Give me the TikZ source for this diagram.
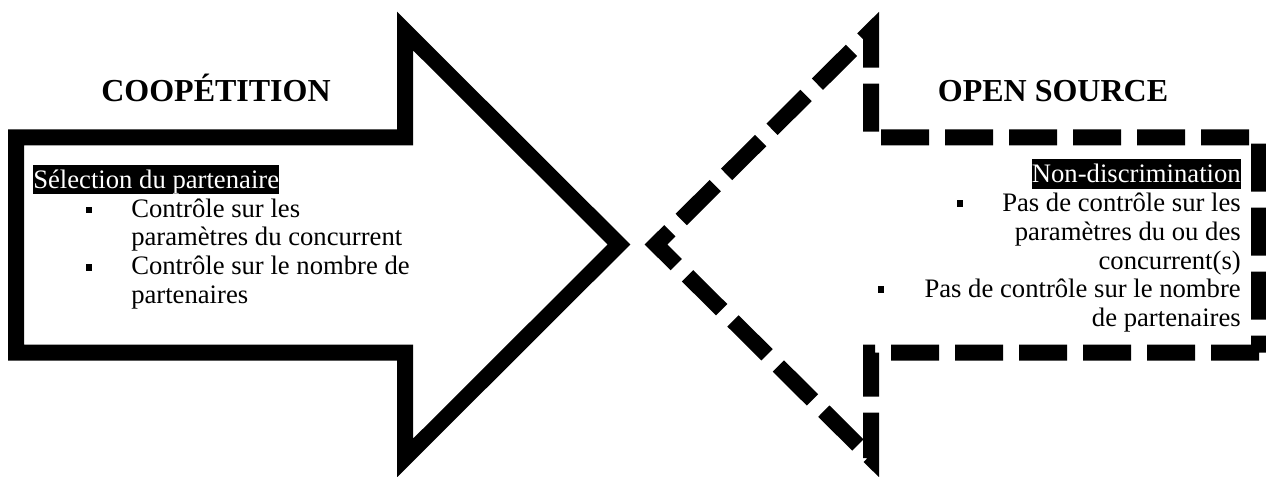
\documentclass[tikz,border=0pt]{standalone}
\usepackage{fontspec}
\setmainfont{Liberation Serif}

\begin{document}
\begin{tikzpicture}[x=0.75pt,y=-0.75pt,
  every node/.style={inner sep=0pt},
  ttl/.style={anchor=base,font=\fontsize{24}{28}\selectfont\bfseries},
  txt/.style={font=\fontsize{20}{24}\selectfont},
  hl/.style={txt,fill=black,text=white,text height=17.8pt,text depth=4.3pt},
  bul/.style={fill=black,minimum size=5.2pt},
  arrowline/.style={line width=12pt,line join=miter}]
\useasboundingbox (0,0) rectangle (1266,477);
% left arrow
\draw[arrowline] (16,137.5) -- (405,137.5) -- (405,31) -- (619,244.5)
  -- (405,458) -- (405,352.5) -- (16,352.5) -- cycle;
% right arrow
\draw[arrowline,dash pattern=on 36pt off 12pt] (1259,352.5) -- (871,352.5)
  -- (871,458) -- (656,244.5) -- (871,31) -- (871,137.5) -- (1259,137.5) -- cycle;
\node[ttl] (coop) at (216,102) {COOPÉTITION};
\node[ttl] (open) at (1053,102) {OPEN SOURCE};
% left text
\node[hl,anchor=base west] (lsel) at (33,188.5) {Sélection du partenaire};
\node[bul] (lb1) at (89,210) {};
\node[txt,anchor=base west] (l1) at (131,217.2) {Contrôle sur les};
\node[txt,anchor=base west] (l2) at (131,245.9) {paramètres du concurrent};
\node[bul] (lb2) at (89,267.6) {};
\node[txt,anchor=base west] (l3) at (131,274.6) {Contrôle sur le nombre de};
\node[txt,anchor=base west] (l4) at (131,303.3) {partenaires};
% right text
\node[hl,anchor=base east] (rnon) at (1241,183) {Non-discrimination};
\node[bul] (rb1) at (960,203.7) {};
\node[txt,anchor=base east] (r1) at (1241,211.7) {Pas de contrôle sur les};
\node[txt,anchor=base east] (r2) at (1241,240.4) {paramètres du ou des};
\node[txt,anchor=base east] (r3) at (1241,269.1) {concurrent(s)};
\node[bul] (rb2) at (881,289.8) {};
\node[txt,anchor=base east] (r4) at (1241,297.8) {Pas de contrôle sur le nombre};
\node[txt,anchor=base east] (r5) at (1241,326.5) {de partenaires};
\end{tikzpicture}
\end{document}
